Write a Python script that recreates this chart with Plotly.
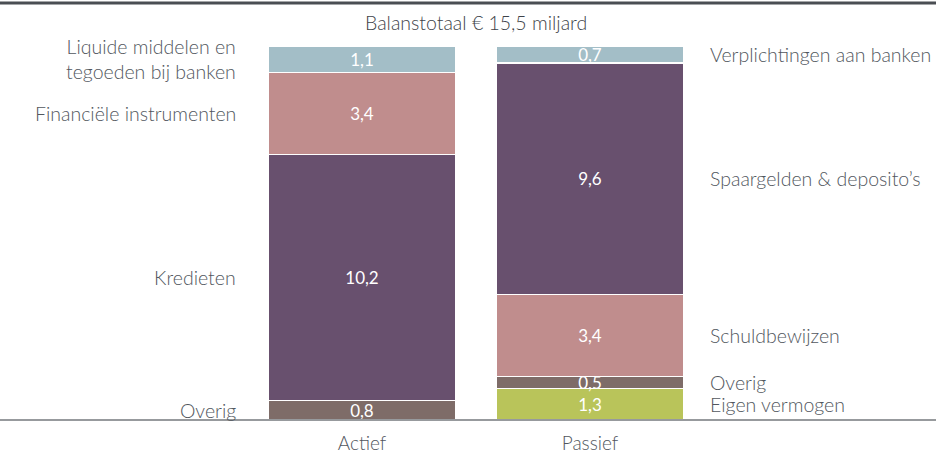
import plotly.graph_objects as go

# Data (EUR billion)
categories = ["Actief", "Passief"]

actief_labels = ["Overig", "Kredieten", "Financiële instrumenten",
                 "Liquide middelen en<br>tegoeden bij banken"]
actief_values = [0.8, 10.2, 3.4, 1.1]
actief_colors = ["#7E6C68", "#68506E", "#C08D8D", "#A3BEC7"]

passief_labels = ["Eigen vermogen", "Overig", "Schuldbewijzen",
                  "Spaargelden &amp; deposito’s", "Verplichtingen aan banken"]
passief_values = [1.3, 0.5, 3.4, 9.6, 0.7]
passief_colors = ["#B9C45A", "#7E6C68", "#C08D8D", "#68506E", "#A3BEC7"]

title_text = "Balanstotaal € 15,5 miljard"

FONT = "Lato"
TEXT_COLOR = "#52575e"
BAR_WIDTH = 0.825

fig = go.Figure()

def add_stack(cat, values, colors):
    for v, c in zip(values, colors):
        fig.add_trace(go.Bar(
            x=[cat], y=[v],
            marker=dict(color=c, line=dict(color="white", width=1.5)),
            width=BAR_WIDTH,
            texttemplate="%{y:.1f}",
            textposition="inside",
            insidetextanchor="middle",
            constraintext="none",
            textfont=dict(color="white", size=17, family=FONT, weight=400),
            hoverinfo="skip",
            showlegend=False,
        ))

add_stack(categories[0], actief_values, actief_colors)
add_stack(categories[1], passief_values, passief_colors)

# side labels positioned at segment midpoints
def add_labels(idx, labels, values, side):
    base = 0
    for lab, v in zip(labels, values):
        mid = base + v / 2
        base += v
        if side == "left":
            fig.add_annotation(x=idx - BAR_WIDTH / 2, y=mid, xref="x", yref="y",
                               text=lab, showarrow=False, xanchor="right",
                               xshift=-30, align="right")
        else:
            fig.add_annotation(x=idx + BAR_WIDTH / 2, y=mid, xref="x", yref="y",
                               text=lab, showarrow=False, xanchor="left",
                               xshift=24, align="left")

add_labels(0, actief_labels, actief_values, "left")
add_labels(1, passief_labels, passief_values, "right")

fig.update_annotations(font=dict(family=FONT, size=19.5, color=TEXT_COLOR, weight=300))

total = sum(actief_values)
fig.add_annotation(x=0.5, y=1.064, xref="paper", yref="paper", text=title_text,
                   showarrow=False, xanchor="center", yanchor="middle",
                   font=dict(family=FONT, size=19.5, color="#3e4349", weight=300))

# top and bottom rules across the full width
fig.add_shape(type="line", xref="paper", yref="paper", x0=-0.56, x1=1.52,
              y0=1.115, y1=1.115, line=dict(color="#4a4e53", width=3))
fig.add_shape(type="line", xref="paper", yref="paper", x0=-0.56, x1=1.52,
              y0=0, y1=0, line=dict(color="#74787d", width=1.5))

fig.update_layout(
    barmode="stack",
    width=936, height=455,
    margin=dict(l=248, r=232, t=46, b=35),
    plot_bgcolor="white",
    paper_bgcolor="white",
    separators=",.",
    font=dict(family=FONT, color=TEXT_COLOR),
)
fig.update_xaxes(range=[-0.5, 1.5], showgrid=False, showline=False, ticks="",
                 automargin=False, ticklabelstandoff=10,
                 tickfont=dict(family=FONT, size=19, color=TEXT_COLOR, weight=300))
fig.update_yaxes(range=[0, total], visible=False, automargin=False)

fig.write_html("out.html", config={"displayModeBar": False},
               post_script="document.body.style.margin='0';")
